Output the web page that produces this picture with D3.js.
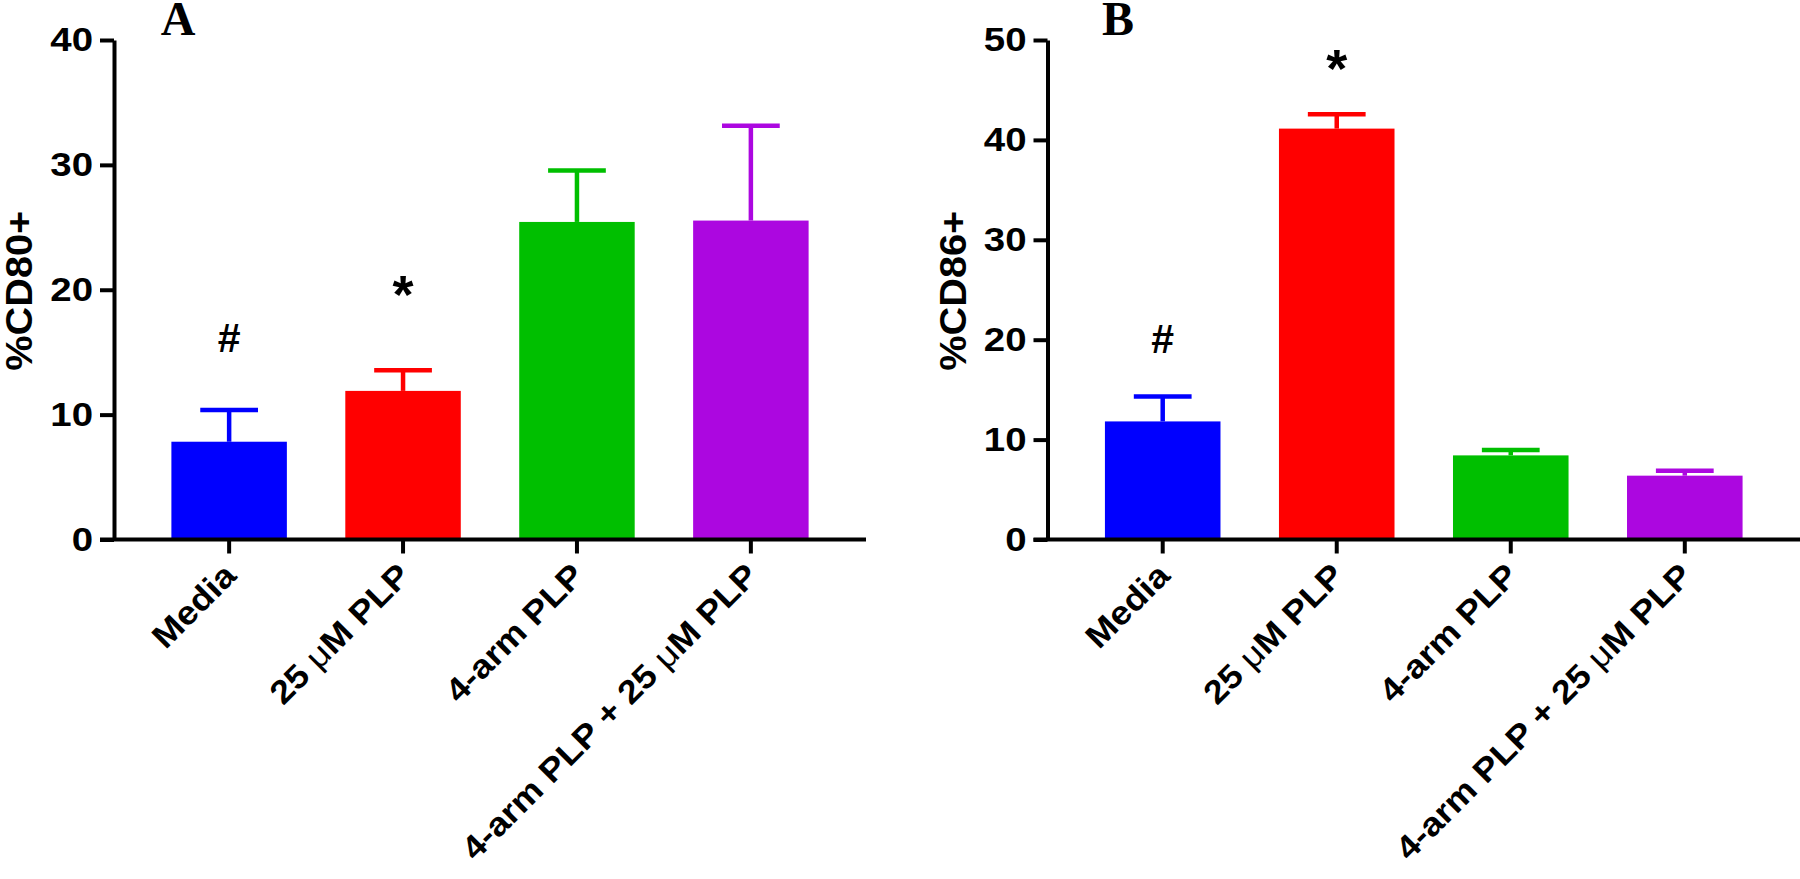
<!DOCTYPE html>
<html><head><meta charset="utf-8">
<script src="https://cdn.jsdelivr.net/npm/d3@7"></script>
<style>body{margin:0;background:#fff} svg{display:block;background:#fff}</style>
</head><body><svg id="chart" width="1800" height="879"></svg>
<script>
// ---- data ----
const categories = ["Media", "25 μM PLP", "4-arm PLP", "4-arm PLP + 25 μM PLP"];
const barColors = ["#0000FF", "#FF0000", "#00BF00", "#AC07E0"];
const cd80Mean = [7.83, 11.9, 25.43, 25.54];
const cd80Sem = [2.55, 1.65, 4.12, 7.59];
const cd86Mean = [11.82, 41.13, 8.42, 6.39];
const cd86Sem = [2.5, 1.43, 0.54, 0.5];
const cd80Ticks = [0, 10, 20, 30, 40];
const cd86Ticks = [0, 10, 20, 30, 40, 50];
const cd80Marks = [{cat: "Media", sym: "#", at: 15.0}, {cat: "25 μM PLP", sym: "*", at: 18.1}];
const cd86Marks = [{cat: "Media", sym: "#", at: 18.65}, {cat: "25 μM PLP", sym: "*", at: 45.3}];

// ---- layout ----
const svg = d3.select("#chart");
const TOP = 40, BOTTOM = 539.5;
const SANS = "'Liberation Sans', Arial, Helvetica, sans-serif";
const X_STRETCH = 1.13;
const LABEL_STRETCH = 1.10;

const panels = [
  {letter: "A", letterX: 178, title: "%CD80+", mean: cd80Mean, sem: cd80Sem, ticks: cd80Ticks, max: 40, marks: cd80Marks, left: 114, right: 866},
  {letter: "B", letterX: 1118, title: "%CD86+", mean: cd86Mean, sem: cd86Sem, ticks: cd86Ticks, max: 50, marks: cd86Marks, left: 1047.5, right: 1800}
];

function fillLabel(textSel, s) {
  const parts = s.split("μ");
  parts.forEach((p, i) => {
    if (i > 0) textSel.append("tspan").attr("font-weight", "normal").text("μ");
    if (p.length) textSel.append("tspan").text(p);
  });
}

panels.forEach(p => {
  const g = svg.append("g");
  const x = d3.scaleBand().domain(categories).range([p.left, p.right]).paddingInner(0.336).paddingOuter(0.33);
  const y = d3.scaleLinear().domain([0, p.max]).range([BOTTOM, TOP]);
  const color = d3.scaleOrdinal().domain(categories).range(barColors);
  const rows = categories.map((c, i) => ({c, m: p.mean[i], e: p.sem[i]}));

  // bars
  g.selectAll("rect.bar").data(rows).join("rect").attr("class", "bar")
    .attr("x", d => x(d.c)).attr("width", x.bandwidth())
    .attr("y", d => y(d.m)).attr("height", d => y(0) - y(d.m))
    .attr("fill", d => color(d.c));

  // error bars (upper only)
  const eb = g.selectAll("g.eb").data(rows).join("g").attr("class", "eb")
    .attr("stroke", d => color(d.c)).attr("stroke-width", 4.5);
  eb.append("line")
    .attr("x1", d => x(d.c) + x.bandwidth() / 2).attr("x2", d => x(d.c) + x.bandwidth() / 2)
    .attr("y1", d => y(d.m)).attr("y2", d => y(d.m + d.e));
  eb.append("line")
    .attr("x1", d => x(d.c) + x.bandwidth() / 4).attr("x2", d => x(d.c) + x.bandwidth() * 3 / 4)
    .attr("y1", d => y(d.m + d.e)).attr("y2", d => y(d.m + d.e));

  // y axis
  const ya = g.append("g").attr("transform", `translate(${p.left},0)`)
    .call(d3.axisLeft(y).tickValues(p.ticks).tickSize(14).tickSizeOuter(0).tickPadding(7));
  ya.select(".domain").attr("stroke-width", 4).attr("stroke", "#000");
  ya.selectAll(".tick line").attr("stroke-width", 4).attr("stroke", "#000");
  ya.selectAll(".tick text").attr("font-family", SANS).attr("font-weight", "bold")
    .attr("font-size", 34).attr("fill", "#000")
    .attr("x", 0).attr("transform", `translate(-21,0) scale(${X_STRETCH},1)`);

  // x axis
  const xa = g.append("g").attr("transform", `translate(0,${BOTTOM})`)
    .call(d3.axisBottom(x).tickSize(14).tickSizeOuter(0).tickFormat(""));
  xa.select(".domain").remove();
  xa.append("line").attr("x1", p.left - 14).attr("x2", p.right).attr("y1", 0).attr("y2", 0)
    .attr("stroke", "#000").attr("stroke-width", 4);
  xa.selectAll(".tick line").attr("stroke-width", 4).attr("stroke", "#000");
  xa.selectAll(".tick").each(function(d) {
    const t = d3.select(this).append("text")
      .attr("transform", `translate(9,38) rotate(-45) scale(${LABEL_STRETCH},1)`)
      .attr("text-anchor", "end").attr("font-family", SANS).attr("font-weight", "bold")
      .attr("font-size", 33).attr("fill", "#000");
    fillLabel(t, d);
  });

  // y title
  const tt = g.append("text")
    .attr("text-anchor", "middle").attr("font-family", SANS).attr("font-weight", "bold")
    .attr("font-size", 36).attr("fill", "#000").text(p.title);
  const k = 160 / tt.node().getComputedTextLength();
  tt.attr("transform", `translate(${p.left - 82},${(TOP + BOTTOM) / 2 + 1}) rotate(-90) scale(${k},1)`);

  // panel letter
  g.append("text").attr("x", p.letterX).attr("y", 35).attr("text-anchor", "middle")
    .attr("font-family", "'Liberation Serif', 'Times New Roman', serif").attr("font-weight", "bold")
    .attr("font-size", 48).attr("fill", "#000").text(p.letter);

  // significance marks
  g.selectAll("text.mark").data(p.marks).join("text").attr("class", "mark")
    .attr("x", d => x(d.cat) + x.bandwidth() / 2).attr("y", d => y(d.at))
    .attr("text-anchor", "middle").attr("font-family", SANS).attr("font-weight", "bold")
    .attr("font-size", d => d.sym === "*" ? 54 : 41).attr("fill", "#000").text(d => d.sym);
});
</script>
</body></html>
